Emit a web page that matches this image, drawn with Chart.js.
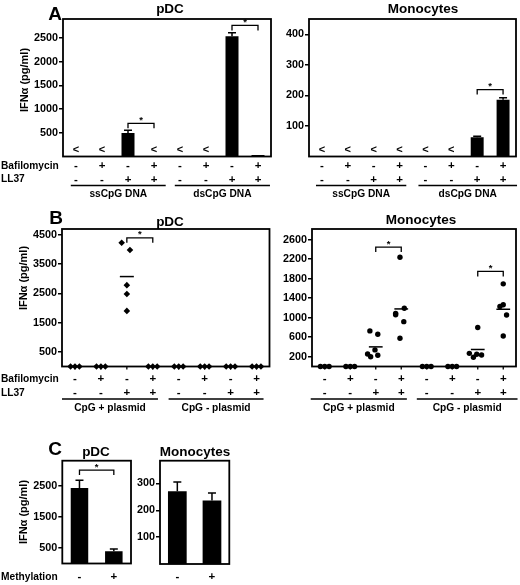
<!DOCTYPE html>
<html>
<head>
<meta charset="utf-8">
<script src="https://cdn.jsdelivr.net/npm/chart.js@4.4.1/dist/chart.umd.min.js"></script>
<style>
  html, body { margin: 0; padding: 0; background: #fff; }
  #fig { position: relative; width: 520px; height: 585px; overflow: hidden;
         font-family: "Liberation Sans", Arial, Helvetica, sans-serif; font-weight: bold; color: #000; }
  canvas { position: absolute; }
  .t { position: absolute; white-space: nowrap; line-height: 1; transform: translate(-50%, -50%); }
  .letter { font-size: 19px; }
  .ptitle { font-size: 13.5px; }
  .ytitle { font-size: 11px; transform: translate(-50%, -50%) rotate(-90deg); }
</style>
</head>
<body>
<div id="fig">
  <canvas id="aPdc" width="276" height="200" style="left:0;top:0"></canvas>
  <canvas id="aMono" width="240" height="200" style="left:280px;top:0"></canvas>
  <canvas id="bPdc" width="276" height="210" style="left:0;top:205px"></canvas>
  <canvas id="bMono" width="240" height="210" style="left:280px;top:205px"></canvas>
  <canvas id="cPdc" width="134" height="145" style="left:0;top:440px"></canvas>
  <canvas id="cMono" width="100" height="145" style="left:134px;top:440px"></canvas>

  <div class="t letter" style="left:55px;top:13px">A</div>
  <div class="t ptitle" style="left:170px;top:9px">pDC</div>
  <div class="t ptitle" style="left:423px;top:9px">Monocytes</div>
  <div class="t ytitle" style="left:24px;top:80px">IFNα (pg/ml)</div>

  <div class="t letter" style="left:56px;top:217px">B</div>
  <div class="t ptitle" style="left:170px;top:222px">pDC</div>
  <div class="t ptitle" style="left:421px;top:220px">Monocytes</div>
  <div class="t ytitle" style="left:23px;top:278px">IFNα (pg/ml)</div>

  <div class="t letter" style="left:55px;top:448px">C</div>
  <div class="t ptitle" style="left:96px;top:452px">pDC</div>
  <div class="t ptitle" style="left:195px;top:452px">Monocytes</div>
  <div class="t ytitle" style="left:23px;top:512px">IFNα (pg/ml)</div>
</div>
<script>
// ---- panel A: bars (mean) with error tops, '<' = below detection ----
const dnaTypesA = ['ssCpG DNA', 'dsCpG DNA'];
const bafilomycinA = ['-', '+', '-', '+', '-', '+', '-', '+'];
const ll37A = ['-', '-', '+', '+', '-', '-', '+', '+'];
const pdcA = [null, null, 495, null, null, null, 2535, 30];
const pdcAErr = [null, null, 555, null, null, null, 2610, null];
const monoA = [null, null, null, null, null, null, 63, 186];
const monoAErr = [null, null, null, null, null, null, 66, 192];
const pdcATicks = [500, 1000, 1500, 2000, 2500];
const monoATicks = [100, 200, 300, 400];
const pdcASig = [[2, 3, 700], [6, 7, 2765]];
const monoASig = [[6, 7, 219]];

// ---- panel B: single donors ----
const plasmidTypesB = ['CpG + plasmid', 'CpG - plasmid'];
const bafilomycinB = ['-', '+', '-', '+', '-', '+', '-', '+'];
const ll37B = ['-', '-', '+', '+', '-', '-', '+', '+'];
const pdcB = [[0, 0, 0], [0, 0, 0], [4230, 3980, 2780, 2480, 1900], [0, 0, 0],
              [0, 0, 0], [0, 0, 0], [0, 0, 0], [0, 0, 0]];
const monoB = [[0, 0, 0], [0, 0, 0], [730, 660, 340, 255, 200, 230], [2240, 1195, 1090, 1060, 920, 580],
               [0, 0, 0], [0, 0, 0], [800, 270, 250, 235, 190], [1695, 1265, 1230, 1055, 625]];
const pdcBTicks = [500, 1500, 2500, 3500, 4500];
const monoBTicks = [200, 600, 1000, 1400, 1800, 2200, 2600];
const pdcBSig = [[2, 3, 4400]];
const monoBSig = [[2, 3, 2450], [6, 7, 1950]];

// ---- panel C ----
const methylationC = ['-', '+'];
const pdcC = [2420, 390];
const pdcCErr = [2670, 466];
const monoC = [271, 237];
const monoCErr = [306, 265];
const pdcCTicks = [500, 1500, 2500];
const monoCTicks = [100, 200, 300];
const pdcCSig = [[0, 1, 3000]];

// horizontal spread of the dots inside a column (in column widths)
const trip = [-0.17, 0, 0.17];
const pdcBJitter = [trip, trip, [-0.2, 0.12, 0, 0, 0], trip, trip, trip, trip, trip];
const monoBJitter = [trip, trip, [-0.23, 0.08, -0.03, -0.32, -0.2, 0.08], [-0.05, 0.12, -0.22, -0.22, 0.1, -0.05],
                     trip, trip, [0, -0.33, -0.04, 0.15, -0.17], [0, 0, -0.13, 0.13, 0]];

const FONT = '"Liberation Sans", Arial, Helvetica, sans-serif';
Chart.defaults.font.family = FONT;
Chart.defaults.font.weight = 'bold';
Chart.defaults.font.size = 10.5;
Chart.defaults.color = '#000';

const figurePlugin = {
  id: 'figure',
  beforeDatasetsDraw(chart) {
    const { ctx, chartArea: a } = chart;
    ctx.save();
    ctx.strokeStyle = '#000';
    ctx.lineWidth = 1.8;
    ctx.strokeRect(a.left, a.top, a.right - a.left, a.bottom - a.top);
    ctx.restore();
  },
  afterDatasetsDraw(chart, args, o) {
    const { ctx, chartArea: a, scales: { x, y } } = chart;
    ctx.save();
    ctx.strokeStyle = '#000';
    ctx.fillStyle = '#000';
    ctx.lineWidth = 1.5;

    if (o.errors) {
      o.errors.forEach((e, i) => {
        if (e == null || o.values[i] == null) return;
        const cx = x.getPixelForValue(i);
        const y0 = y.getPixelForValue(o.values[i]);
        const y1 = y.getPixelForValue(e);
        ctx.beginPath();
        ctx.moveTo(cx, y0); ctx.lineTo(cx, y1);
        ctx.moveTo(cx - o.cap, y1); ctx.lineTo(cx + o.cap, y1);
        ctx.stroke();
      });
    }

    if (o.means) {
      o.means.forEach((col, i) => {
        const m = col.reduce((s, v) => s + v, 0) / col.length;
        if (!m) return;
        const py = y.getPixelForValue(m);
        ctx.beginPath();
        ctx.moveTo(x.getPixelForValue(i - 0.27), py);
        ctx.lineTo(x.getPixelForValue(i + 0.27), py);
        ctx.stroke();
      });
    }

    ctx.textAlign = 'center';
    ctx.textBaseline = 'middle';

    if (o.below) {
      ctx.font = 'bold 11px ' + FONT;
      o.below.forEach((v, i) => {
        if (v == null) ctx.fillText('<', x.getPixelForValue(i), a.bottom - 6.5);
      });
    }

    (o.sig || []).forEach(([i, j, h]) => {
      const x1 = x.getPixelForValue(i), x2 = x.getPixelForValue(j), py = y.getPixelForValue(h);
      ctx.lineWidth = 1.3;
      ctx.beginPath();
      ctx.moveTo(x1, py + 5); ctx.lineTo(x1, py); ctx.lineTo(x2, py); ctx.lineTo(x2, py + 5);
      ctx.stroke();
      ctx.font = 'bold 9.5px ' + FONT;
      ctx.fillText('*', (x1 + x2) / 2, py - 3);
    });

    if (o.xTicks) {
      ctx.lineWidth = 1.3;
      x.ticks.forEach(t => {
        const px = x.getPixelForValue(t.value);
        ctx.beginPath(); ctx.moveTo(px, a.bottom); ctx.lineTo(px, a.bottom + 3); ctx.stroke();
      });
    }

    (o.rows || []).forEach(r => {
      const ry = a.bottom + r.dy;
      ctx.font = 'bold 11.5px ' + FONT;
      ctx.textAlign = 'center';
      r.labels.forEach((s, i) => ctx.fillText(s, x.getPixelForValue(i), ry));
      if (r.name) {
        ctx.font = 'bold 10.2px ' + FONT;
        ctx.textAlign = 'left';
        ctx.fillText(r.name, 1, ry);
      }
    });

    if (o.groups) {
      const g = o.groups;
      g.names.forEach((name, k) => {
        const x1 = x.getPixelForValue(g.spans[k][0] + g.ext[k][0]);
        const x2 = x.getPixelForValue(g.spans[k][1] + g.ext[k][1]);
        ctx.lineWidth = 1.3;
        ctx.beginPath();
        ctx.moveTo(x1, a.bottom + g.lineDy); ctx.lineTo(x2, a.bottom + g.lineDy);
        ctx.stroke();
        ctx.font = 'bold 10.2px ' + FONT;
        ctx.textAlign = 'center';
        ctx.fillText(name, (x1 + x2) / 2, a.bottom + g.labelDy);
      });
    }
    ctx.restore();
  }
};

function yAxis(max, ticks, width) {
  return {
    min: 0,
    max: max,
    afterBuildTicks: s => { s.ticks = ticks.map(v => ({ value: v })); },
    afterFit: s => { s.width = width; },
    ticks: { padding: 1, callback: v => String(v), font: { size: 10.8, weight: 'bold' } },
    grid: { display: true, drawOnChartArea: false, drawTicks: true, tickLength: 4, color: '#000', lineWidth: 1.5 },
    border: { display: false }
  };
}

function baseOptions(padding, scales, figure) {
  return {
    responsive: false,
    animation: false,
    events: [],
    layout: { padding: padding },
    plugins: { legend: { display: false }, tooltip: { enabled: false }, figure: figure },
    scales: scales
  };
}

function barChart(id, labels, values, opts) {
  return new Chart(document.getElementById(id), {
    type: 'bar',
    data: {
      labels: labels,
      datasets: [{ data: values, backgroundColor: '#000', borderWidth: 0,
                   barPercentage: opts.barPct, categoryPercentage: 1 }]
    },
    options: baseOptions(opts.padding, {
      x: { type: 'category', display: false, offset: true },
      y: yAxis(opts.max, opts.ticks, opts.yWidth)
    }, opts.figure),
    plugins: [figurePlugin]
  });
}

function dotChart(id, columns, jitter, opts) {
  const points = columns.flatMap((col, i) => col.map((v, j) => ({ x: i + jitter[i][j], y: v })));
  return new Chart(document.getElementById(id), {
    type: 'scatter',
    data: {
      datasets: [{ data: points, pointStyle: opts.pointStyle, pointRadius: opts.radius,
                   backgroundColor: '#000', borderColor: '#000', borderWidth: 0, clip: false }]
    },
    options: baseOptions(opts.padding, {
      x: { type: 'linear', display: false, min: -0.5, max: columns.length - 0.5,
           afterBuildTicks: s => { s.ticks = columns.map((c, i) => ({ value: i })); } },
      y: yAxis(opts.max, opts.ticks, opts.yWidth)
    }, opts.figure),
    plugins: [figurePlugin]
  });
}

const labelsA = bafilomycinA.map((b, i) => dnaTypesA[Math.floor(i / 4)] + ' Baf' + b + ' LL37' + ll37A[i]);

barChart('aPdc', labelsA, pdcA, {
  padding: { left: 0, top: 19, right: 5, bottom: 43.5 }, max: 2900, ticks: pdcATicks, yWidth: 63, barPct: 0.5,
  figure: {
    values: pdcA, errors: pdcAErr, cap: 4, below: pdcA, sig: pdcASig,
    rows: [{ dy: 9.5, labels: bafilomycinA, name: 'Bafilomycin' }, { dy: 23, labels: ll37A, name: 'LL37' }],
    groups: { names: dnaTypesA, spans: [[0, 3], [4, 7]], ext: [[-0.2, 0.45], [-0.2, 0.46]], lineDy: 29, labelDy: 37.5 }
  }
});

barChart('aMono', labelsA, monoA, {
  padding: { left: 0, top: 19, right: 4, bottom: 43.5 }, max: 450, ticks: monoATicks, yWidth: 29, barPct: 0.5,
  figure: {
    values: monoA, errors: monoAErr, cap: 4, below: monoA, sig: monoASig,
    rows: [{ dy: 9.5, labels: bafilomycinA }, { dy: 23, labels: ll37A }],
    groups: { names: dnaTypesA, spans: [[0, 3], [4, 7]], ext: [[-0.23, 0.26], [-0.27, 0.54]], lineDy: 29, labelDy: 37.5 }
  }
});

dotChart('bPdc', pdcB, pdcBJitter, {
  padding: { left: 0, top: 24, right: 6.5, bottom: 48.5 }, max: 4700, ticks: pdcBTicks, yWidth: 62,
  pointStyle: 'rectRot', radius: 3.3,
  figure: {
    means: pdcB, sig: pdcBSig, xTicks: true,
    rows: [{ dy: 12.8, labels: bafilomycinB, name: 'Bafilomycin' }, { dy: 26.8, labels: ll37B, name: 'LL37' }],
    groups: { names: plasmidTypesB, spans: [[0, 3], [4, 7]], ext: [[-0.5, 0.2], [-0.39, 0.27]], lineDy: 32.5, labelDy: 41.2 }
  }
});

dotChart('bMono', monoB, monoBJitter, {
  padding: { left: 0, top: 24, right: 4, bottom: 48.5 }, max: 2820, ticks: monoBTicks, yWidth: 32,
  pointStyle: 'circle', radius: 2.7,
  figure: {
    means: monoB, sig: monoBSig, xTicks: true,
    rows: [{ dy: 12.8, labels: bafilomycinB }, { dy: 26.8, labels: ll37B }],
    groups: { names: plasmidTypesB, spans: [[0, 3], [4, 7]], ext: [[-0.55, 0.22], [-0.39, 0.56]], lineDy: 32.5, labelDy: 41.2 }
  }
});

barChart('cPdc', methylationC, pdcC, {
  padding: { left: 0, top: 20.7, right: 3, bottom: 21.5 }, max: 3300, ticks: pdcCTicks, yWidth: 62.3, barPct: 0.51,
  figure: {
    values: pdcC, errors: pdcCErr, cap: 4, sig: pdcCSig,
    rows: [{ dy: 13.2, labels: methylationC, name: 'Methylation' }]
  }
});

barChart('cMono', methylationC, monoC, {
  padding: { left: 0, top: 20.7, right: 4.7, bottom: 21 }, max: 385, ticks: monoCTicks, yWidth: 26, barPct: 0.54,
  figure: {
    values: monoC, errors: monoCErr, cap: 4,
    rows: [{ dy: 13.2, labels: methylationC }]
  }
});
</script>
</body>
</html>
